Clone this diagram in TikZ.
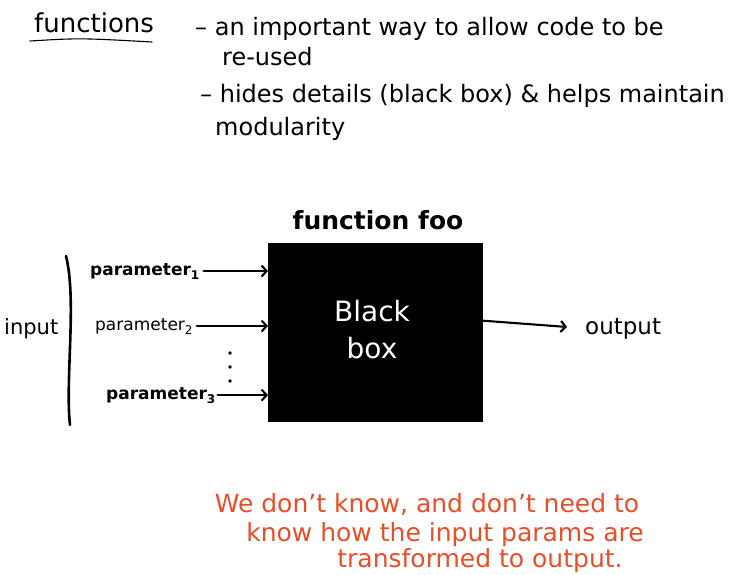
\documentclass[tikz,border=0pt]{standalone}
\usepackage{fontspec}
\setmainfont{DejaVu Sans}
\usetikzlibrary{arrows.meta}
\definecolor{redink}{RGB}{232,78,40}
\newcommand{\lowsub}[1]{\raisebox{-4pt}{\fontsize{12}{12}\selectfont #1}}
\begin{document}
\begin{tikzpicture}[x=1pt,y=-1pt,
  txt/.style={anchor=base west,inner sep=0pt},
  ink/.style={line width=2.1pt,line cap=round},
  arr/.style={ink,-{Straight Barb[length=5pt,width=11pt,line width=2.1pt]}},
  note/.style={anchor=base,inner sep=0pt,text=redink,font=\fontsize{25}{30}\selectfont}]
\useasboundingbox (0,0) rectangle (732,574);
% header notes
\node[txt,font=\fontsize{26}{30}\selectfont] (fn) at (34,32) {functions};
\draw[line width=1.1pt,line cap=round] (30,41) .. controls (80,38) .. (152,42);
\node[txt,font=\fontsize{24}{28}\selectfont] (l1) at (195,35) {– an important way to allow code to be};
\node[txt,font=\fontsize{24}{28}\selectfont] (l2) at (222,65) {re-used};
\node[txt,font=\fontsize{24}{28}\selectfont] (l3) at (200,102) {– hides details (black box) \& helps maintain};
\node[txt,font=\fontsize{24}{28}\selectfont] (l4) at (215,135) {modularity};
% black box
\node[fill=black,minimum width=215pt,minimum height=179pt,inner sep=0pt,anchor=north west] (box) at (268,243) {};
\node[anchor=base,inner sep=0pt,font=\fontsize{25}{30}\selectfont\bfseries] (title) at (378,229) {function foo};
\node[anchor=base,inner sep=0pt,text=white,font=\fontsize{28}{32}\selectfont] (blk) at (372,321) {Black};
\node[anchor=base,inner sep=0pt,text=white,font=\fontsize{28}{32}\selectfont] (bx) at (372,358) {box};
% parameters
\node[txt,font=\fontsize{17}{20}\selectfont\bfseries] (p1) at (90,275) {parameter\lowsub{1}};
\node[txt,font=\fontsize{17}{20}\selectfont] (p2) at (95,330) {parameter\lowsub{2}};
\node[txt,font=\fontsize{17}{20}\selectfont\bfseries] (p3) at (106,399) {parameter\lowsub{3}};
\draw[arr,shorten <=4pt] (p1.east) -- (p1.east -| box.west);
\draw[arr,shorten <=4pt] (p2.east) -- (p2.east -| box.west);
\draw[arr,shorten <=2pt] (p3.east) -- (p3.east -| box.west);
\fill (230,353) circle (1.8pt) (230,367) circle (1.8pt) (230,381) circle (1.8pt);
% input bracket
\node[txt,font=\fontsize{21}{24}\selectfont] (in) at (4,334) {input};
\draw[line width=2.6pt,line cap=round] (66,256) .. controls (77,300) and (65,380) .. (70,425);
% output
\node[txt,font=\fontsize{23}{26}\selectfont] (out) at (585,334) {output};
\draw[arr,shorten >=18pt] ([yshift=12pt]box.east) -- (out.west);
% red note
\node[note] (n1) at (427,512) {We don't know, and don't need to};
\node[note] (n2) at (445,541) {know how the input params are};
\node[note] (n3) at (480,567) {transformed to output.};
\end{tikzpicture}
\end{document}
